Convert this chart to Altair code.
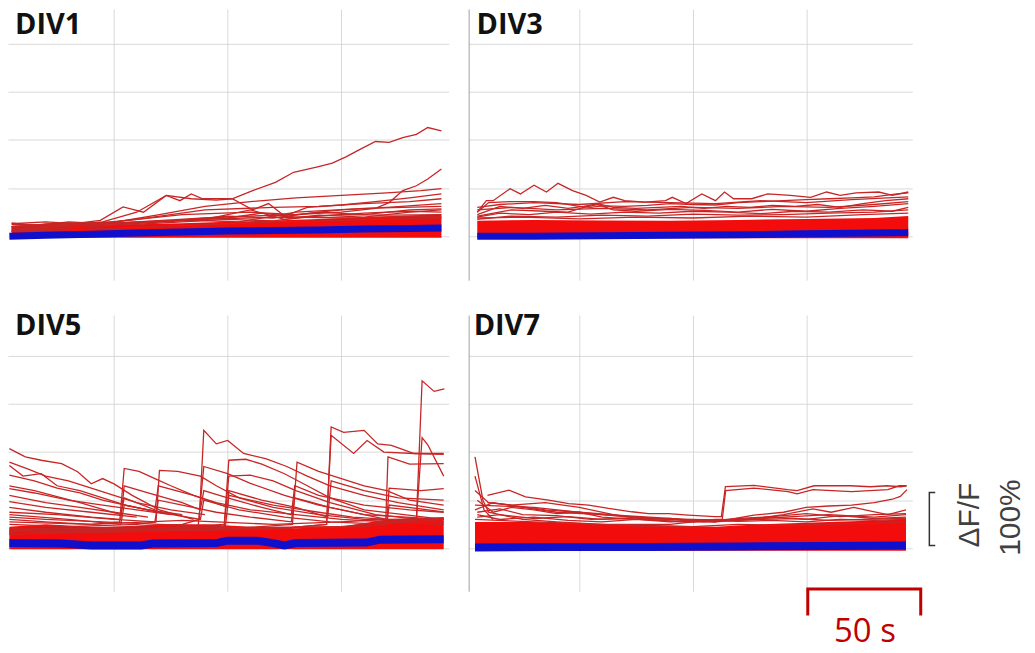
import altair as alt
import pandas as pd

# ---------------- DIV1 (time in s, dF/F as fraction: 1.0 = 100%) ----------------
D1_RED_T = [
    [5, 20, 35, 44, 54, 63, 73, 84, 95, 102, 111, 121, 129, 140, 146, 152, 158, 165, 171, 177, 183, 188, 194],
    [5, 30, 60, 90, 110, 130, 150, 165, 171, 177, 183, 188, 194],
    [5, 45, 70, 90, 110, 130, 150, 170, 185, 194],
    [5, 45, 60, 73, 79, 84, 89, 102, 111, 118, 125, 135, 150, 165, 180, 194],
    [5, 60, 90, 120, 140, 160, 180, 194],
    [5, 50, 80, 110, 130, 150, 170, 194],
    [5, 40, 70, 100, 120, 140, 160, 180, 194],
    [5, 30, 60, 90, 110, 125, 140, 160, 180, 194],
    [5, 25, 50, 75, 100, 115, 130, 150, 170, 194],
    [5, 35, 65, 95, 125, 155, 185, 194],
    [5, 20, 40, 60, 85, 105, 130, 160, 194],
    [5, 15, 30, 45, 60, 80, 100, 120, 140, 160, 180, 194],
    [5, 40, 80, 120, 150, 175, 194],
]
D1_RED_Y = [
    [0.2, 0.25, 0.28, 0.33, 0.61, 0.5, 0.85, 0.78, 0.75, 0.78, 0.95, 1.12, 1.33, 1.45, 1.52, 1.65, 1.8, 1.97, 1.95, 2.05, 2.12, 2.26, 2.19],
    [0.2, 0.22, 0.3, 0.38, 0.42, 0.45, 0.5, 0.58, 0.7, 0.95, 1.05, 1.19, 1.4],
    [0.15, 0.25, 0.45, 0.62, 0.72, 0.8, 0.85, 0.9, 0.95, 0.99],
    [0.15, 0.3, 0.5, 0.85, 0.74, 0.88, 0.78, 0.78, 0.55, 0.68, 0.42, 0.6, 0.65, 0.72, 0.8, 0.88],
    [0.1, 0.35, 0.55, 0.6, 0.62, 0.68, 0.72, 0.78],
    [0.2, 0.3, 0.45, 0.5, 0.45, 0.55, 0.6, 0.68],
    [0.1, 0.2, 0.3, 0.42, 0.38, 0.5, 0.45, 0.55, 0.57],
    [0.25, 0.22, 0.3, 0.35, 0.55, 0.35, 0.42, 0.48, 0.52, 0.5],
    [0.18, 0.28, 0.26, 0.32, 0.38, 0.48, 0.4, 0.45, 0.44, 0.45],
    [0.12, 0.24, 0.3, 0.36, 0.4, 0.38, 0.42, 0.4],
    [0.26, 0.3, 0.24, 0.28, 0.33, 0.3, 0.5, 0.58, 0.62],
    [0.28, 0.22, 0.3, 0.26, 0.25, 0.3, 0.35, 0.32, 0.44, 0.4, 0.5, 0.55],
    [0.1, 0.15, 0.22, 0.3, 0.33, 0.36, 0.38],
]
D1_BAND_T = [5, 20, 40, 60, 80, 100, 120, 140, 160, 180, 194]
D1_BAND_LO = [-0.03, -0.03, -0.03, -0.03, -0.03, -0.03, -0.03, -0.03, -0.03, -0.03, -0.03]
D1_BAND_HI = [0.22, 0.24, 0.24, 0.25, 0.27, 0.3, 0.33, 0.36, 0.4, 0.43, 0.46]
D1_BLUE_T = [4, 20, 40, 60, 80, 100, 120, 140, 160, 180, 194]
D1_BLUE_Y = [0.0, 0.02, 0.04, 0.07, 0.09, 0.11, 0.12, 0.13, 0.15, 0.16, 0.17]

# ---------------- DIV3 ----------------
D3_RED_T = [
    [5, 9, 12, 19.5, 24, 30, 35.5, 40.6, 47, 53, 59, 65, 70, 79, 88, 91, 97, 104, 110, 114, 118, 126, 133, 143, 152, 159, 165, 172, 182, 188, 195],
    [5, 10, 20, 30, 40, 50, 55, 60, 70, 80, 90, 100, 110, 120, 130, 140, 150, 160, 170, 180, 190, 195],
    [5, 15, 25, 35, 45, 52, 58, 65, 75, 85, 95, 105, 115, 125, 135, 145, 155, 165, 175, 185, 195],
    [5, 20, 35, 45, 52, 58, 65, 75, 90, 105, 120, 135, 150, 165, 180, 195],
    [5, 15, 28, 40, 55, 70, 85, 100, 115, 130, 145, 160, 175, 188, 195],
    [5, 20, 40, 60, 80, 100, 120, 140, 160, 180, 195],
    [5, 25, 50, 75, 100, 125, 150, 175, 195],
    [5, 20, 40, 60, 80, 100, 120, 140, 160, 180, 195],
    [5, 15, 30, 50, 70, 90, 110, 130, 150, 170, 195],
]
D3_RED_Y = [
    [0.5, 0.74, 0.74, 0.99, 0.88, 1.06, 0.92, 1.1, 0.95, 0.85, 0.71, 0.81, 0.74, 0.71, 0.74, 0.81, 0.68, 0.88, 0.74, 0.92, 0.78, 0.78, 0.88, 0.85, 0.81, 0.92, 0.85, 0.9, 0.92, 0.85, 0.92],
    [0.5, 0.7, 0.72, 0.72, 0.7, 0.62, 0.6, 0.63, 0.62, 0.64, 0.68, 0.66, 0.65, 0.7, 0.72, 0.74, 0.76, 0.78, 0.8, 0.82, 0.88, 0.9],
    [0.45, 0.62, 0.58, 0.64, 0.58, 0.62, 0.68, 0.6, 0.58, 0.6, 0.62, 0.58, 0.62, 0.6, 0.64, 0.62, 0.66, 0.6, 0.68, 0.74, 0.78],
    [0.42, 0.55, 0.52, 0.5, 0.6, 0.66, 0.55, 0.52, 0.56, 0.54, 0.5, 0.56, 0.52, 0.58, 0.62, 0.68],
    [0.4, 0.48, 0.45, 0.5, 0.46, 0.5, 0.48, 0.52, 0.5, 0.47, 0.52, 0.5, 0.55, 0.52, 0.6],
    [0.35, 0.42, 0.4, 0.44, 0.42, 0.46, 0.44, 0.45, 0.48, 0.5, 0.55],
    [0.38, 0.4, 0.36, 0.4, 0.38, 0.42, 0.4, 0.45, 0.48],
    [0.55, 0.6, 0.55, 0.58, 0.55, 0.6, 0.58, 0.62, 0.6, 0.66, 0.72],
    [0.6, 0.66, 0.7, 0.66, 0.72, 0.7, 0.68, 0.74, 0.7, 0.76, 0.82],
]
D3_BAND_T = [5, 30, 60, 90, 120, 150, 180, 195]
D3_BAND_LO = [-0.04, -0.04, -0.04, -0.04, -0.04, -0.04, -0.04, -0.04]
D3_BAND_HI = [0.32, 0.34, 0.33, 0.32, 0.34, 0.36, 0.38, 0.42]
D3_BLUE_T = [5, 30, 60, 90, 120, 150, 180, 195]
D3_BLUE_Y = [0.0, 0.0, 0.01, 0.02, 0.03, 0.05, 0.07, 0.08]

# ---------------- DIV5 ----------------
D5_RED_T = [
    [4, 11, 18, 27, 34, 40, 45, 50, 58, 70, 85],
    [4, 12, 20, 30, 40, 50, 60, 75, 90],
    [4, 10, 18, 25, 35, 45, 55, 70],
    [4, 15, 25, 35, 45, 55, 65, 80],
    [4, 15, 30, 45, 60, 75],
    [4, 20, 35, 50, 65],
    [4, 20, 40, 60],
    [4, 20, 40, 52.5, 54.5, 61, 68, 75, 85, 95, 110, 130, 150, 170, 195],
    [4, 30, 60, 68.5, 70, 78, 88, 95, 105, 120, 140, 160, 195],
    [4, 40, 80, 87.5, 89.5, 95, 100, 107, 117, 126, 135, 145, 160, 175, 195],
    [4, 50, 87, 89.5, 100, 110, 125, 140, 160, 195],
    [4, 60, 98.5, 100.5, 108, 115, 125, 135, 145, 160, 195],
    [4, 60, 98.5, 100.5, 110, 120, 130, 145, 165, 195],
    [4, 100, 128.5, 130.5, 140, 150, 160, 170, 180, 195],
    [4, 120, 143.5, 145.5, 151, 160, 166, 172, 176, 182, 195],
    [4, 120, 143.5, 145.5, 155.4, 161.3, 168.7, 182, 195],
    [4, 150, 169.5, 170.5, 180, 195],
    [4, 160, 183, 185.5, 190.8, 195.3],
    [4, 160, 183, 185.5, 188, 195],
    [4, 20, 40, 53, 54.5, 65, 80, 88, 89.5, 100, 115, 128, 129.5, 140, 160, 180, 195],
    [4, 15, 35, 53, 54.5, 68, 69.5, 85, 100, 100.5, 115, 130, 144, 145.5, 160, 175, 195],
    [4, 25, 50, 68, 69.5, 80, 95, 110, 128, 129.5, 145, 160, 170, 171, 185, 195],
    [4, 30, 53, 54.5, 70, 88, 89.5, 105, 125, 145, 170, 171, 195],
    [4, 20, 45, 70, 99, 100.5, 120, 140, 155, 170, 185, 195],
    [4, 40, 80, 120, 150, 170, 195],
]
D5_RED_Y = [
    [2.07, 1.9, 1.83, 1.76, 1.59, 1.34, 1.45, 1.34, 1.1, 0.8, 0.6],
    [1.79, 1.65, 1.5, 1.4, 1.25, 1.1, 0.95, 0.8, 0.7],
    [1.72, 1.5, 1.55, 1.3, 1.2, 1.05, 0.9, 0.75],
    [1.52, 1.4, 1.25, 1.15, 1.0, 0.9, 0.8, 0.7],
    [1.24, 1.15, 1.0, 0.9, 0.8, 0.7],
    [1.1, 0.95, 0.85, 0.75, 0.65],
    [0.97, 0.85, 0.75, 0.65],
    [0.6, 0.55, 0.5, 0.55, 1.66, 1.6, 1.45, 1.3, 1.1, 0.95, 0.8, 0.7, 0.6, 0.55, 0.5],
    [0.5, 0.45, 0.5, 0.55, 1.62, 1.6, 1.5, 1.3, 1.05, 0.85, 0.7, 0.6, 0.55],
    [0.4, 0.42, 0.5, 0.6, 2.45, 2.17, 2.24, 1.97, 1.86, 1.7, 1.5, 1.3, 1.1, 0.95, 0.8],
    [0.3, 0.35, 0.45, 1.7, 1.55, 1.35, 1.1, 0.9, 0.7, 0.6],
    [0.35, 0.4, 0.5, 1.83, 1.85, 1.75, 1.55, 1.3, 1.05, 0.8, 0.6],
    [0.35, 0.4, 0.45, 1.5, 1.52, 1.4, 1.2, 0.95, 0.7, 0.55],
    [0.3, 0.4, 0.5, 1.79, 1.6, 1.45, 1.3, 1.2, 1.0, 0.9],
    [0.3, 0.4, 0.5, 2.52, 2.41, 2.45, 2.17, 2.14, 2.07, 1.97, 1.97],
    [0.35, 0.4, 0.5, 2.35, 1.97, 2.24, 2.0, 1.97, 1.95],
    [0.3, 0.45, 0.55, 1.9, 1.75, 1.76],
    [0.35, 0.45, 0.6, 3.48, 3.26, 3.31],
    [0.4, 0.45, 0.6, 2.3, 2.15, 1.5],
    [0.85, 0.75, 0.65, 0.6, 1.3, 1.15, 0.95, 0.8, 1.2, 1.05, 0.85, 0.7, 1.3, 1.1, 0.9, 0.8, 0.75],
    [1.3, 1.2, 0.95, 0.7, 1.05, 0.8, 1.3, 1.1, 0.85, 1.2, 1.0, 0.85, 0.65, 1.4, 1.2, 1.05, 1.0],
    [0.75, 0.7, 0.6, 0.55, 1.0, 0.9, 0.75, 0.65, 0.55, 1.05, 0.85, 0.7, 0.6, 1.25, 1.2, 1.24],
    [0.7, 0.6, 0.5, 0.9, 0.75, 0.6, 1.0, 0.8, 0.65, 0.55, 0.5, 0.9, 0.76],
    [0.65, 0.6, 0.55, 0.5, 0.45, 1.1, 0.9, 0.75, 0.65, 0.6, 0.55, 0.62],
    [0.55, 0.5, 0.58, 0.5, 0.55, 0.6, 0.62],
]
D5_BAND_T = [4, 20, 40, 55, 70, 90, 110, 130, 150, 170, 195]
D5_BAND_LO = [-0.02, -0.02, -0.02, -0.02, -0.02, -0.02, -0.02, -0.02, -0.02, -0.02, -0.02]
D5_BAND_HI = [0.45, 0.5, 0.45, 0.45, 0.5, 0.5, 0.45, 0.42, 0.45, 0.6, 0.65]
D5_BLUE_T = [4, 27, 40, 62, 67, 95, 100, 113, 120, 125, 130, 161, 167, 195]
D5_BLUE_Y = [0.11, 0.1, 0.06, 0.06, 0.1, 0.11, 0.16, 0.16, 0.11, 0.06, 0.11, 0.12, 0.18, 0.19]

# ---------------- DIV7 ----------------
D7_RED_T = [
    [4, 7.5, 10, 15, 25, 40, 60, 80, 100, 120, 140, 160, 180, 194],
    [4, 8, 12],
    [9.5, 19, 26.3, 36.5, 45.3, 54.1, 62.9, 73.1, 80.5, 89.2, 98, 109.7, 112.6, 114.4, 127, 141.8, 146, 153.5, 160.8, 169.6, 178.3, 185.6, 191.5, 194.4],
    [4, 30, 60, 90, 110, 113, 114.5, 127, 142, 146, 153, 170, 186, 191, 194],
    [4, 30, 60, 90, 110, 127, 140, 150, 160, 170, 180, 188, 191.5, 194.4],
    [9.5, 20, 35, 50, 65, 80, 95, 110, 125, 140, 153, 161, 171, 178, 186, 194],
    [5, 12, 20, 30, 40, 50, 60, 75, 90, 105, 120, 135, 150, 165, 180, 194],
    [5, 15, 25, 40, 55, 70, 85, 100, 115, 130, 145, 160, 175, 194],
    [5, 15, 30, 45, 60, 75, 90, 105, 120, 135, 150, 165, 180, 194],
    [4, 10, 20, 35, 50, 70, 90, 110],
    [4, 12, 25, 40, 60, 80, 100, 120, 140, 160, 180, 194],
    [5, 15, 30, 45, 60, 75, 90, 105, 120, 135, 150, 165, 180, 194],
]
D7_RED_Y = [
    [1.9, 1.0, 0.75, 0.7, 0.6, 0.55, 0.5, 0.45, 0.45, 0.5, 0.48, 0.5, 0.52, 0.55],
    [1.5, 0.8, 0.6],
    [1.1, 1.21, 1.07, 1.0, 0.93, 0.9, 0.83, 0.76, 0.72, 0.72, 0.69, 0.66, 0.66, 1.28, 1.31, 1.22, 1.2, 1.3, 1.3, 1.3, 1.28, 1.3, 1.28, 1.3],
    [0.6, 0.55, 0.5, 0.5, 0.6, 0.6, 1.2, 1.25, 1.18, 1.13, 1.22, 1.18, 1.22, 1.3, 1.3],
    [0.9, 0.85, 0.7, 0.6, 0.55, 0.69, 0.75, 0.85, 0.88, 0.9, 0.95, 1.02, 1.08, 1.22],
    [0.95, 0.9, 0.95, 0.85, 0.7, 0.6, 0.55, 0.55, 0.6, 0.7, 0.82, 0.75, 0.85, 0.78, 0.7, 0.8],
    [1.0, 0.75, 0.85, 0.8, 0.72, 0.75, 0.65, 0.6, 0.62, 0.55, 0.6, 0.65, 0.6, 0.68, 0.62, 0.65],
    [0.75, 0.82, 0.7, 0.68, 0.6, 0.62, 0.58, 0.55, 0.58, 0.6, 0.62, 0.58, 0.6, 0.62],
    [0.7, 0.6, 0.65, 0.58, 0.55, 0.6, 0.55, 0.58, 0.56, 0.58, 0.55, 0.6, 0.58, 0.6],
    [1.2, 0.95, 0.9, 0.8, 0.75, 0.68, 0.62, 0.55],
    [0.8, 0.95, 0.85, 0.75, 0.7, 0.62, 0.6, 0.58, 0.65, 0.7, 0.65, 0.7],
    [0.65, 0.7, 0.62, 0.66, 0.6, 0.64, 0.6, 0.56, 0.62, 0.66, 0.72, 0.66, 0.7, 0.72],
]
D7_BAND_T = [4, 30, 60, 90, 110, 130, 160, 194]
D7_BAND_LO = [-0.05, -0.05, -0.05, -0.05, -0.05, -0.05, -0.05, -0.05]
D7_BAND_HI = [0.55, 0.55, 0.5, 0.48, 0.45, 0.5, 0.55, 0.6]
D7_BLUE_T = [4, 40, 80, 120, 160, 194]
D7_BLUE_Y = [0.02, 0.03, 0.03, 0.04, 0.05, 0.06]

PANEL_LABELS = ["DIV1", "DIV3", "DIV5", "DIV7"]
SCALE_TEXT = ["\u0394F/F", "100%", "50 s"]

GRID = "#d9d9d9"
RED_LINE = "#c82626"
RED_BAND = "#f20c0c"
BLUE = "#1010cc"


def long_df(ts_list, ys_list):
    rows = []
    for i, (ts, ys) in enumerate(zip(ts_list, ys_list)):
        for t, v in zip(ts, ys):
            rows.append({"trace": i, "t": t, "v": v})
    return pd.DataFrame(rows)


def panel(label, red_t, red_y, band_t, band_lo, band_hi, blue_t, blue_y,
          xdom, ydom, w, h, left_domain, lab_xy, blue_w, extra=None):
    def X(field="t"):
        return alt.X(f"{field}:Q", scale=alt.Scale(domain=xdom, nice=False, zero=False),
                     axis=alt.Axis(values=[50, 100, 150], labels=False, ticks=False, domain=False,
                                   title=None, grid=True, gridColor=GRID, gridWidth=1, minExtent=0))

    def Y(field="v"):
        return alt.Y(f"{field}:Q", scale=alt.Scale(domain=ydom, nice=False, zero=False),
                     axis=alt.Axis(values=[0, 1, 2, 3, 4], labels=False, ticks=False,
                                   domain=left_domain, domainColor="#a0a0a0", title=None,
                                   grid=True, gridColor=GRID, gridWidth=1, minExtent=0))

    band_df = pd.DataFrame({"t": band_t, "lo": band_lo, "hi": band_hi})
    blue_df = pd.DataFrame({"t": blue_t, "v": blue_y})
    red_df = long_df(red_t, red_y)

    band = alt.Chart(band_df).mark_area(color=RED_BAND, clip=True).encode(
        x=X(), y=Y("lo"), y2="hi:Q")
    reds = alt.Chart(red_df).mark_line(color=RED_LINE, strokeWidth=1.3, clip=True).encode(
        x=X(), y=Y(), detail="trace:N")
    blue = alt.Chart(blue_df).mark_line(color=BLUE, strokeWidth=blue_w, clip=True).encode(
        x=X(), y=Y())
    lab = alt.Chart(pd.DataFrame({"label": [label]})).mark_text(
        align="left", baseline="alphabetic", font="Open Sans", fontWeight="bold",
        fontSize=29, color="#111111").encode(
        x=alt.value(lab_xy[0]), y=alt.value(lab_xy[1]), text="label:N")
    layers = [band, reds, blue, lab]
    if extra:
        layers += extra(X, Y)
    return alt.layer(*layers).properties(width=w, height=h)


def scale_bars(X, Y):
    ybar = pd.DataFrame({"t": [206.9, 204.3, 204.3, 206.9], "v": [1.16, 1.16, 0.06, 0.06], "o": [0, 1, 2, 3]})
    xbar = pd.DataFrame({"t": [150.7, 150.7, 200.5, 200.5], "v": [-1.393, -0.843, -0.843, -1.393], "o": [0, 1, 2, 3]})
    ytxt = pd.DataFrame({"t": [226.3, 244.3], "v": [0.69, 0.64], "s": SCALE_TEXT[:2]})
    xtxt = pd.DataFrame({"t": [175.9], "v": [-1.946], "s": [SCALE_TEXT[2]]})
    l1 = alt.Chart(ybar).mark_line(color="#333333", strokeWidth=1.5, clip=False).encode(
        x=X(), y=Y(), order="o:Q")
    l2 = alt.Chart(xbar).mark_line(color="#c00000", strokeWidth=3, clip=False).encode(
        x=X(), y=Y(), order="o:Q")
    t1 = alt.Chart(ytxt).mark_text(angle=270, align="center", baseline="alphabetic",
                                   font="Liberation Sans Narrow, Liberation Sans", fontSize=30,
                                   color="#404040", clip=False).encode(x=X(), y=Y(), text="s:N")
    t2 = alt.Chart(xtxt).mark_text(align="center", baseline="alphabetic", font="Open Sans",
                                   fontSize=33, color="#c00000", clip=False).encode(x=X(), y=Y(), text="s:N")
    return [l1, l2, t1, t2]


LEFT_X = [3.4, 197.2]
RIGHT_X = [1.2, 196.8]
TOP_Y = [-0.912, 4.725]
BOT_Y = [-0.89, 4.845]

p1 = panel(PANEL_LABELS[0], D1_RED_T, D1_RED_Y, D1_BAND_T, D1_BAND_LO, D1_BAND_HI, D1_BLUE_T, D1_BLUE_Y,
           LEFT_X, TOP_Y, 442, 272, False, (7, 25), 7)
p3 = panel(PANEL_LABELS[1], D3_RED_T, D3_RED_Y, D3_BAND_T, D3_BAND_LO, D3_BAND_HI, D3_BLUE_T, D3_BLUE_Y,
           RIGHT_X, TOP_Y, 445, 272, True, (8, 25), 7)
p5 = panel(PANEL_LABELS[2], D5_RED_T, D5_RED_Y, D5_BAND_T, D5_BAND_LO, D5_BAND_HI, D5_BLUE_T, D5_BLUE_Y,
           LEFT_X, BOT_Y, 442, 277, False, (7, 20), 8)
p7 = panel(PANEL_LABELS[3], D7_RED_T, D7_RED_Y, D7_BAND_T, D7_BAND_LO, D7_BAND_HI, D7_BLUE_T, D7_BLUE_Y,
           RIGHT_X, BOT_Y, 445, 277, True, (5, 20), 8, extra=scale_bars)

chart = alt.vconcat(
    alt.hconcat(p1, p3, spacing=20),
    alt.hconcat(p5, p7, spacing=20),
    spacing=32,
).properties(padding=0).configure_view(stroke=None)

chart.save("out.html", embed_options={"renderer": "svg", "actions": False})
